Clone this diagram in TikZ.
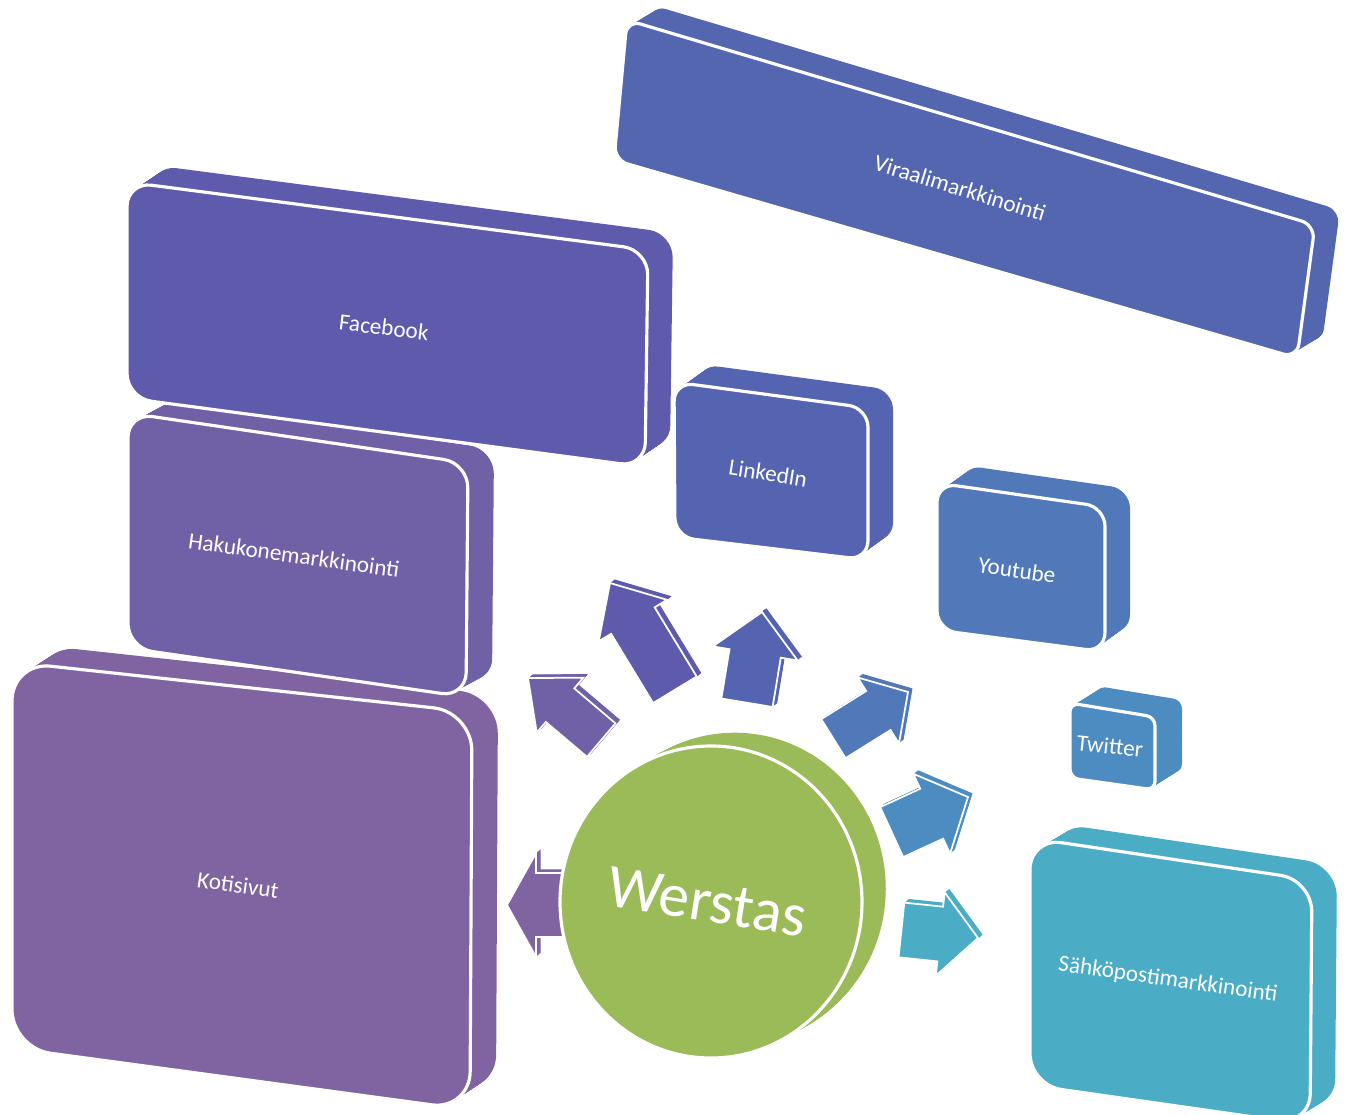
\documentclass[tikz,border=0pt]{standalone}
\usepackage{fontspec}
\setmainfont{Carlito}
\usetikzlibrary{calc}

\definecolor{koticol}{HTML}{8064A2}
\definecolor{hakucol}{HTML}{7060A6}
\definecolor{facecol}{HTML}{5F5BAC}
\definecolor{viracol}{HTML}{5566B1}
\definecolor{linkcol}{HTML}{5464B0}
\definecolor{tubecol}{HTML}{5179BA}
\definecolor{twitcol}{HTML}{4D8CC0}
\definecolor{mailcol}{HTML}{4BACC6}
\definecolor{werscol}{HTML}{9BBB59}

% slab: colour, radius, depth, corners TL TR BR BL
\newcommand{\solidbox}[7]{%
  \foreach \fr in {0,0.04,...,1}
    \fill[#1, rounded corners=#2] ($#4+\fr*(#3)$) -- ($#5+\fr*(#3)$) -- ($#6+\fr*(#3)$) -- ($#7+\fr*(#3)$) -- cycle;
  \filldraw[fill=#1, face, rounded corners=#2] #4 -- #5 -- #6 -- #7 -- cycle;
}

% block arrow: colour, tip, angle, length, head length, head half width, shaft half width
\newcommand{\blockarrow}[7]{%
  \foreach \fr in {0,0.1,...,1}
    \fill[#1, shift={($#2+\fr*(5,-4)$)}, rotate=#3]
      (0,0) -- (-#5,#6) -- (-#5,#7) -- (-#4,#7) -- (-#4,-#7) -- (-#5,-#7) -- (-#5,-#6) -- cycle;
  \filldraw[fill=#1, draw=white, line width=0.5pt, shift={#2}, rotate=#3]
    (0,0) -- (-#5,#6) -- (-#5,#7) -- (-#4,#7) -- (-#4,-#7) -- (-#5,-#7) -- (-#5,-#6) -- cycle;
}

\tikzset{
  lbl/.style={text=white, font=\fontsize{6.6}{8}\selectfont, inner sep=0},
  face/.style={draw=white, line width=0.9pt},
}

\begin{document}
\begin{tikzpicture}[x=0.01cm, y=-0.01cm]
\useasboundingbox (0,0) rectangle (1348,1115);

\solidbox{viracol}{4pt}{25,-15}{(627,20)}{(1315,225)}{(1297,358)}{(614,160)}
\solidbox{koticol}{11pt}{26,-17}{(12,662)}{(472,712)}{(470,1110)}{(12,1048)}
\solidbox{hakucol}{7pt}{26,-14}{(128,413)}{(468,463)}{(466,697)}{(128,648)}
\solidbox{facecol}{7pt}{25,-17}{(127,182)}{(648,250)}{(645,467)}{(127,398)}
\solidbox{linkcol}{5.5pt}{25,-18}{(674,382)}{(868,408)}{(868,560)}{(675,537)}
\solidbox{tubecol}{5.5pt}{25,-18}{(937,483)}{(1105,507)}{(1105,652)}{(937,630)}
\solidbox{twitcol}{2.5pt}{27,-17}{(1070,703)}{(1155,717)}{(1155,790)}{(1070,778)}
\solidbox{mailcol}{9pt}{25,-15}{(1030,838)}{(1312,880)}{(1310,1125)}{(1030,1085)}

\node[lbl, rotate=-17] (viraali) at (960,188) {Viraalimarkkinointi};
\node[lbl, rotate=-8] (koti) at (238,885) {Kotisivut};
\node[lbl, rotate=-8] (haku) at (294,555) {Hakukonemarkkinointi};
\node[lbl, rotate=-7] (face) at (384,327) {Facebook};
\node[lbl, rotate=-9] (link) at (768,473) {LinkedIn};
\node[lbl, rotate=-8] (tube) at (1017,570) {Youtube};
\node[lbl, rotate=-6] (twit) at (1110,746) {Twitter};
\node[lbl, rotate=-8] (mail) at (1168,980) {Sähköpostimarkkinointi};

\blockarrow{koticol}{(507,905)}{180}{70}{29}{52}{32}
\blockarrow{hakucol}{(528,678)}{139.7}{96}{42}{36}{22}
\blockarrow{facecol}{(610,583)}{121.3}{125}{44}{40}{25.5}
\blockarrow{linkcol}{(762,612)}{80.6}{92}{42}{43}{26}
\blockarrow{tubecol}{(908,692)}{32}{88}{35}{39}{23}
\blockarrow{twitcol}{(968,797)}{24.7}{84}{40}{44}{27.5}
\blockarrow{mailcol}{(978,938)}{-6}{77}{38}{42}{27.5}

\foreach \fr in {0,0.05,...,1}
  \fill[werscol] ($(711,902)+\fr*(25,-14)$) ellipse [x radius=151, y radius=156];
\filldraw[fill=werscol, face] (711,902) ellipse [x radius=151, y radius=156];
\node[text=white, font=\fontsize{17.5}{20}\selectfont, inner sep=0, rotate=-9] (werstas) at (707,902) {Werstas};
\end{tikzpicture}
\end{document}
